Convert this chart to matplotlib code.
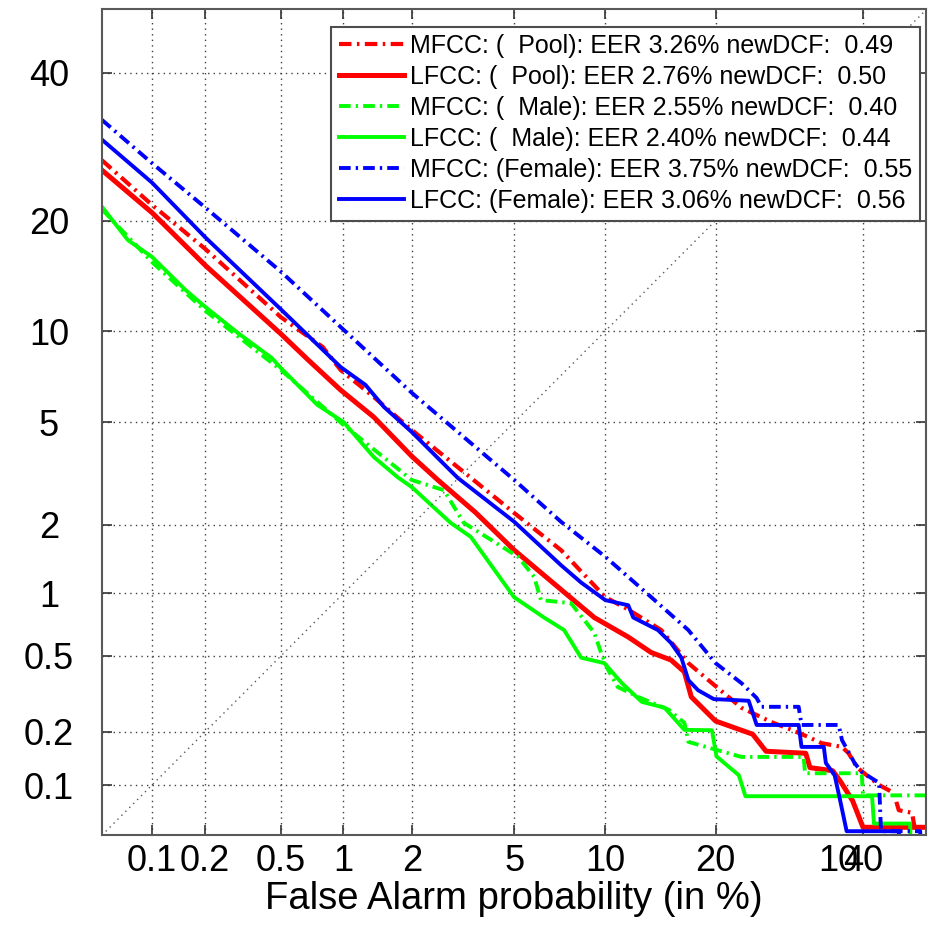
import numpy as np
import matplotlib
matplotlib.use("Agg")
import matplotlib.pyplot as plt
from statistics import NormalDist

# DET curves, values in % (false alarm, miss)
mfcc_pool_fa = [0.05, 0.1, 0.2, 0.5, 0.80, 0.97, 1.37, 2, 3.07, 5, 7.24, 10, 11.7, 14.5, 17.1, 19.2, 23.0, 26.8, 29.5, 31.9,
                33.8, 36.8, 37.8, 39.1, 42.5, 44.8, 45.6, 47.7, 48.1, 50]
mfcc_pool_miss = [27.4, 21.8, 17.0, 11.0, 8.93, 7.54, 6.13, 4.69, 3.41, 2.24, 1.56, 0.96, 0.84, 0.67, 0.46, 0.377, 0.27, 0.226, 0.205, 0.187,
                  0.173, 0.165, 0.152, 0.126, 0.100, 0.090, 0.071, 0.0685, 0.056, 0.056]

lfcc_pool_fa = [0.05, 0.1, 0.2, 0.5, 0.683, 0.97, 1.37, 2, 2.56, 3.6, 5, 7.24, 9.25, 11.7, 13.6, 15.4, 16.7, 17.4, 20, 24.4,
                26.1, 31.5, 32.1, 35.4, 36.5, 38.4, 40.0, 50]
lfcc_pool_miss = [26.1, 20.9, 15.4, 9.8, 8.11, 6.47, 5.22, 3.75, 3.04, 2.25, 1.56, 1.04, 0.77, 0.62, 0.52, 0.477, 0.415, 0.308, 0.229, 0.194,
                  0.156, 0.152, 0.126, 0.121, 0.106, 0.081, 0.056, 0.056]

mfcc_male_fa = [0.05, 0.1, 0.2, 0.5, 1.0, 2, 2.71, 3.24, 4.11, 5.16, 5.87, 6.2, 7.8, 9.25, 9.7, 10.2, 10.9, 12.5, 15.2, 16.7,
                17.1, 23.0, 31.2, 31.4, 39.8, 40.0, 50]
mfcc_male_miss = [21.3, 15.7, 11.5, 7.54, 4.89, 3.04, 2.77, 2.04, 1.73, 1.46, 1.19, 0.93, 0.90, 0.65, 0.52, 0.425, 0.347, 0.308, 0.263, 0.224,
                  0.176, 0.145, 0.145, 0.117, 0.117, 0.087, 0.087]

lfcc_male_fa = [0.05, 0.072, 0.1, 0.155, 0.2, 0.30, 0.45, 0.5, 0.755, 1.0, 1.37, 1.74, 2, 2.88, 3.45, 4.99, 6.35, 7.41, 8.41, 9.93,
                11.2, 12.8, 14.8, 16.7, 19.6, 20.1, 22.7, 23.5, 41.4, 41.7, 47.4, 47.5]
lfcc_male_miss = [21.6, 17.9, 16.2, 13.2, 11.8, 9.87, 8.24, 7.65, 5.75, 5.01, 3.73, 3.12, 2.85, 2.04, 1.78, 0.96, 0.77, 0.67, 0.49, 0.46,
                  0.364, 0.29, 0.27, 0.205, 0.204, 0.146, 0.114, 0.086, 0.086, 0.059, 0.059, 0.04]

mfcc_female_fa = [0.05, 0.1, 0.2, 0.5, 1, 2, 5, 7.24, 10, 13.6, 17.1, 20, 23.0, 24.9, 25.5, 30.5, 30.9, 36.3, 36.8, 38.7,
                  39.8, 42.5, 42.8, 49.0, 49.1]
mfcc_female_miss = [33.0, 27.0, 21.5, 14.8, 10.1, 6.33, 3.04, 2.06, 1.46, 0.96, 0.67, 0.46, 0.364, 0.304, 0.273, 0.273, 0.218, 0.218, 0.180, 0.134,
                    0.119, 0.103, 0.053, 0.053, 0.04]

lfcc_female_fa = [0.05, 0.1, 0.2, 0.5, 0.97, 1.26, 1.52, 2, 3.07, 5, 7.24, 8.41, 10, 11.7, 12.1, 14.2, 15.4, 16.4, 17.1, 18.1,
                  19.8, 23.9, 24.9, 30.5, 30.9, 34.1, 34.4, 35.7, 36.5, 37.5, 45.6, 45.7]
lfcc_female_miss = [30.2, 24.5, 18.2, 11.6, 7.71, 6.73, 5.66, 4.61, 3.10, 2.06, 1.34, 1.12, 0.93, 0.88, 0.77, 0.67, 0.58, 0.49, 0.377, 0.334,
                    0.30, 0.294, 0.218, 0.218, 0.165, 0.165, 0.134, 0.114, 0.082, 0.053, 0.053, 0.04]

labels = ["MFCC: (  Pool): EER 3.26% newDCF:  0.49",
          "LFCC: (  Pool): EER 2.76% newDCF:  0.50",
          "MFCC: (  Male): EER 2.55% newDCF:  0.40",
          "LFCC: (  Male): EER 2.40% newDCF:  0.44",
          "MFCC: (Female): EER 3.75% newDCF:  0.55",
          "LFCC: (Female): EER 3.06% newDCF:  0.56"]

tick_vals = [0.1, 0.2, 0.5, 1, 2, 5, 10, 20, 40]
tick_labels = ["0.1", "0.2", "0.5", "1", "2", "5", "10", "20", "40"]
stray_val, stray_label = 36.2, "10"   # leftover label sitting on top of "40"
axis_lim = [0.05, 50]

_nd = NormalDist()


def probit(p):
    p = np.clip(np.asarray(p, dtype=float) / 100.0, 1e-9, 1 - 1e-9)
    return np.vectorize(lambda v: _nd.inv_cdf(v) if v == v else np.nan, otypes=[float])(p)


def inv_probit(z):
    z = np.asarray(z, dtype=float)
    return np.vectorize(lambda v: _nd.cdf(v) * 100.0 if v == v else np.nan, otypes=[float])(z)


plt.rcParams["font.family"] = ["Liberation Sans", "DejaVu Sans"]

fig = plt.figure(figsize=(9.35, 9.27), dpi=100)
ax = fig.add_axes([0.1089, 0.0989, 0.882, 0.891])
ax.set_xscale("function", functions=(probit, inv_probit))
ax.set_yscale("function", functions=(probit, inv_probit))

dashdot = (0, (3, 1.3, 0.6, 1.3))
series = [
    (mfcc_pool_fa, mfcc_pool_miss, "#ff0000", dashdot, 3.0),
    (lfcc_pool_fa, lfcc_pool_miss, "#ff0000", "-", 3.6),
    (mfcc_male_fa, mfcc_male_miss, "#00ff00", dashdot, 2.8),
    (lfcc_male_fa, lfcc_male_miss, "#00ff00", "-", 2.8),
    (mfcc_female_fa, mfcc_female_miss, "#0000ff", dashdot, 2.8),
    (lfcc_female_fa, lfcc_female_miss, "#0000ff", "-", 2.8),
]
for (fa, miss, col, ls, lw), lab in zip(series, labels):
    ax.plot(fa, miss, color=col, linestyle=ls, linewidth=lw, label=lab)

# diagonal EER line
ax.plot(axis_lim, axis_lim, color="0.35", linestyle=(0, (1, 3)), linewidth=1)

ax.set_xlim(axis_lim)
ax.set_ylim(axis_lim)
ax.set_xticks(tick_vals, labels=tick_labels)
ax.set_yticks(tick_vals, labels=tick_labels)
ax.minorticks_off()
ax.grid(True, color="0.25", linestyle=(0, (1, 3)), linewidth=1)
ax.set_axisbelow(True)

ax.tick_params(direction="in", length=7, width=1.2, top=True, right=True,
               color="0.2", labelsize=26)
ax.tick_params(axis="y", pad=38)
ax.tick_params(axis="x", pad=6)
for lbl in ax.get_yticklabels():
    lbl.set_horizontalalignment("center")
for sp in ax.spines.values():
    sp.set_color("0.35")
    sp.set_linewidth(1.5)

ax.annotate(stray_label, xy=(stray_val, 0), xycoords=("data", "axes fraction"),
            xytext=(0, -6), textcoords="offset points", ha="center", va="top", fontsize=26)

ax.set_xlabel("False Alarm probability (in %)", fontsize=27.5, labelpad=2)

leg = ax.legend(loc="upper right", bbox_to_anchor=(0.992, 0.979), borderaxespad=0,
                fontsize=18, handlelength=2.6, handletextpad=0.25, labelspacing=0.28,
                borderpad=0.3, fancybox=False, framealpha=1, edgecolor="0.3")
leg.get_frame().set_linewidth(1.5)

fig.savefig("out.png", dpi=100)
